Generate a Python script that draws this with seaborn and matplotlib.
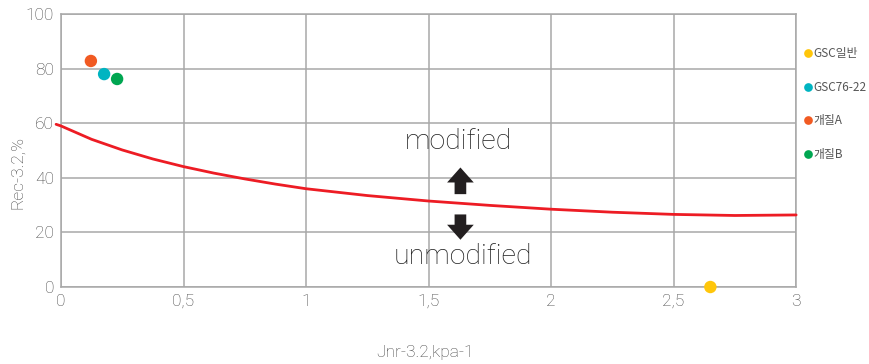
import matplotlib
matplotlib.use("Agg")
import matplotlib.pyplot as plt
import seaborn as sns
import pandas as pd

# Binder samples (Jnr-3.2 vs Rec-3.2)
samples = ["GSC일반", "GSC76-22", "개질A", "개질B"]
jnr_values = [2.65, 0.176, 0.122, 0.229]
rec_values = [0.0, 78.0, 82.8, 76.2]
sample_colors = ["#FFC60B", "#00B4C1", "#F15A22", "#00A651"]

# Boundary curve between modified / unmodified binders
curve_jnr = [-0.02, 0, 0.125, 0.25, 0.375, 0.5, 0.625, 0.75, 0.875, 1.0, 1.25, 1.5,
             1.75, 2.0, 2.25, 2.5, 2.75, 3.0]
curve_rec = [59.6, 59.0, 54.1, 50.2, 46.9, 44.1, 41.7, 39.6, 37.7, 36.0, 33.5, 31.5,
             29.9, 28.5, 27.4, 26.6, 26.2, 26.4]

x_ticks = [0, 0.5, 1, 1.5, 2, 2.5, 3]
x_tick_labels = ["0", "0,5", "1", "1,5", "2", "2,5", "3"]
y_ticks = [0, 20, 40, 60, 80, 100]

sns.set_theme(style="white")
plt.rcParams["font.family"] = ["Noto Sans CJK KR", "DejaVu Sans"]

grey = "#A8A8A8"
text_grey = "#444444"
latin_font = ["Roboto", "Liberation Sans", "Noto Sans CJK KR"]

fig = plt.figure(figsize=(8.7, 3.64), dpi=100)
ax = fig.add_axes([0.0701, 0.2115, 0.845, 0.75])

pts = pd.DataFrame({"Jnr": jnr_values, "Rec": rec_values, "sample": samples})
curve = pd.DataFrame({"Jnr": curve_jnr, "Rec": curve_rec})

sns.lineplot(data=curve, x="Jnr", y="Rec", ax=ax, color="#ED1C24", lw=2.0,
             zorder=3, clip_on=False)
sns.scatterplot(data=pts, x="Jnr", y="Rec", hue="sample", hue_order=samples,
                palette=sample_colors, s=80, edgecolor="none", ax=ax,
                zorder=4, clip_on=False)

ax.set_xlim(0, 3)
ax.set_ylim(0, 100)
ax.set_xticks(x_ticks)
ax.set_xticklabels(x_tick_labels)
ax.set_yticks(y_ticks)
ax.grid(True, color=grey, lw=1.1)
ax.set_axisbelow(True)
for sp in ax.spines.values():
    sp.set_color(grey)
    sp.set_linewidth(1.1)
ax.tick_params(axis="both", length=0, labelsize=12.5, colors=text_grey, pad=5)
for lab in ax.get_xticklabels() + ax.get_yticklabels():
    lab.set_family(latin_font)
    lab.set_fontweight("light")

ax.set_xlabel("")
ax.set_ylabel("")
fig.text(425 / 870, 1 - 352 / 364, "Jnr-3.2,kpa-1", ha="center", va="center",
         fontsize=12.5, color=text_grey, family=latin_font, fontweight="light")
fig.text(18 / 870, 1 - 172 / 364, "Rec-3.2,%", ha="center", va="center",
         rotation=90, fontsize=12.5, color=text_grey, family=latin_font,
         fontweight="light")

# Region annotations
ax.text(1.62, 53.2, "modified", ha="center", va="center", fontsize=20.5,
        color="#1E1E1E", family=latin_font, fontweight="light")
ax.text(1.64, 11.1, "unmodified", ha="center", va="center", fontsize=20.5,
        color="#1E1E1E", family=latin_font, fontweight="light")
arrow_style = dict(arrowstyle="simple,head_width=1.6,head_length=0.9,tail_width=0.7",
                   color="#231F20", lw=0)
ax.annotate("", xy=(1.63, 44.8), xytext=(1.63, 33.0), arrowprops=arrow_style)
ax.annotate("", xy=(1.63, 16.3), xytext=(1.63, 27.6), arrowprops=arrow_style)

leg = ax.legend(loc="upper left", bbox_to_anchor=(0.998, 0.905), frameon=False,
                prop={"family": ["Noto Sans CJK KR", "DejaVu Sans"], "size": 8.5},
                handletextpad=0.0, labelspacing=1.75, borderaxespad=0.2,
                handlelength=1.0, markerscale=0.7)
for t in leg.get_texts():
    t.set_color("#555555")

fig.savefig("out.png", dpi=100)
